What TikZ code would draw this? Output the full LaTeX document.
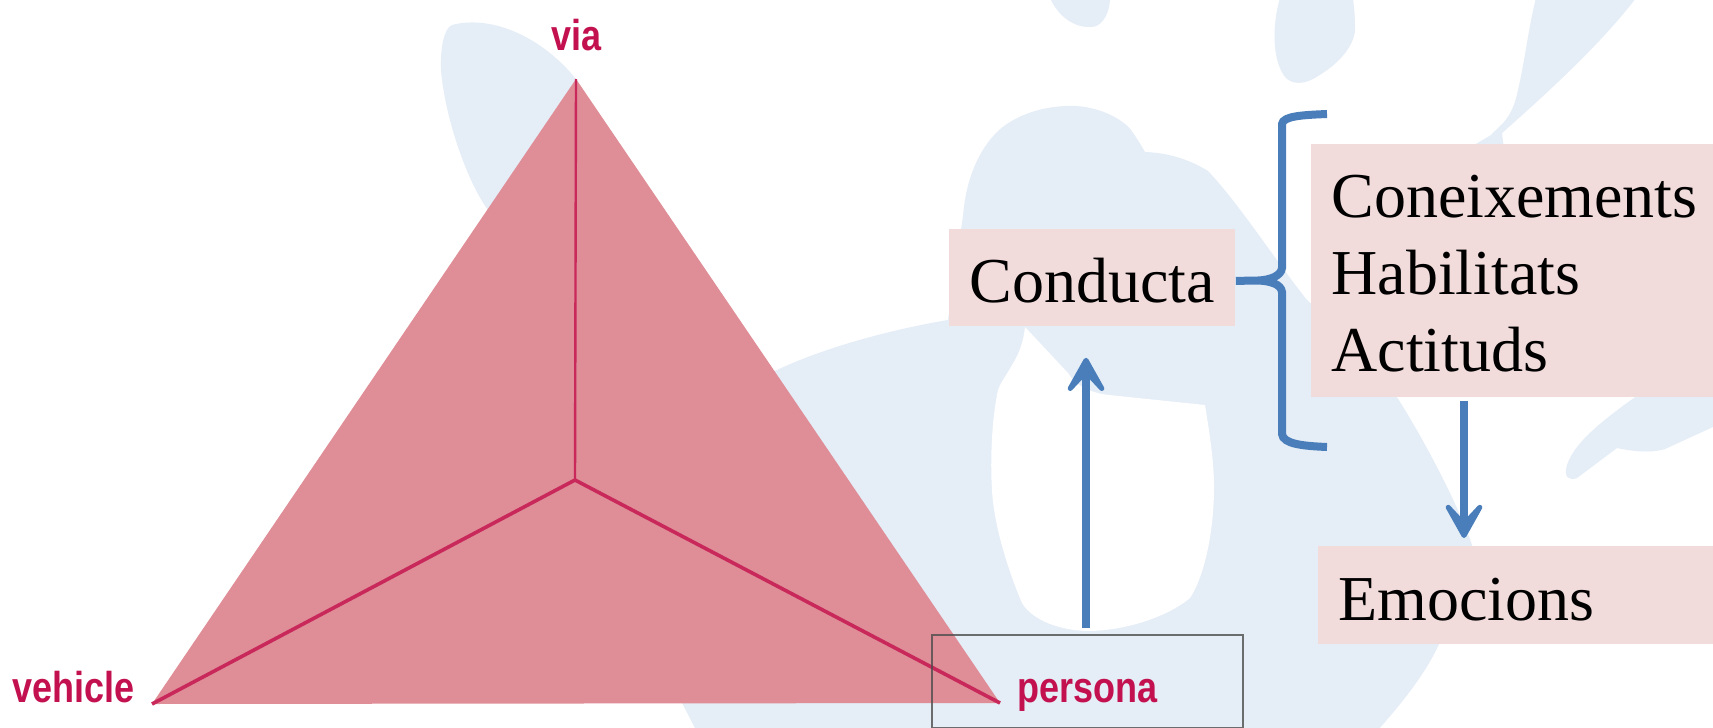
\documentclass[tikz,border=0pt]{standalone}
\usepackage{fontspec}
\setmainfont{Liberation Serif}
\newfontfamily\lsans{Liberation Sans}
\usetikzlibrary{arrows.meta}
\definecolor{bgblue}{HTML}{E5EDF7}
\definecolor{trifill}{HTML}{DF8D97}
\definecolor{spoke}{HTML}{C8295A}
\definecolor{labelred}{HTML}{C3114F}
\definecolor{pinkbg}{HTML}{F2DCDB}
\definecolor{arrowblue}{HTML}{4A7EBB}
\newcommand{\tallabel}[1]{\scalebox{1}[1.2]{#1}}
\tikzset{
  blob/.style={fill=bgblue,draw=none},
  pinkbox/.style={fill=pinkbg,draw=none,anchor=north west,inner xsep=10pt,inner ysep=0pt,align=left,
    font=\fontsize{32}{38.5}\selectfont,text=black},
  oneline/.style={text height=25pt,text depth=0pt},
  vlabel/.style={anchor=base west,inner sep=0pt,text=labelred,font=\lsans\bfseries\fontsize{18}{22}\selectfont},
  bluearrow/.style={draw=arrowblue,line width=4pt,-{Stealth[length=25pt,width=28pt,inset=15pt,round]}},
  spokeline/.style={draw=spoke,line width=1.8pt}
}
\begin{document}
\begin{tikzpicture}[x=0.5pt,y=-0.5pt]
\useasboundingbox (0,0) rectangle (1713,728);
\clip (0,0) rectangle (1713,728);
\fill[white] (0,0) rectangle (1713,728);
% background silhouette
\fill[blob] (492,215) .. controls (470,190) and (445,120) .. (441,70) .. controls (440,45) and (445,28) .. (452,25) .. controls (490,15) and (540,35) .. (576,79) -- cycle;
\fill[blob] (1050,-2) .. controls (1060,20) and (1078,28) .. (1091,27) .. controls (1104,27) and (1110,10) .. (1110,-2) -- cycle;
\fill[blob] (1280,-2) .. controls (1272,25) and (1272,60) .. (1285,77) .. controls (1292,85) and (1305,85) .. (1318,76) .. controls (1345,60) and (1356,40) .. (1355,27) .. controls (1355,15) and (1354,8) .. (1353,-2) -- cycle;
\fill[blob] (1536,-2) .. controls (1528,30) and (1525,60) .. (1518,90) .. controls (1512,120) and (1500,125) .. (1491,135) -- (1466,150) -- (1504,150) -- (1502,133) .. controls (1545,95) and (1600,45) .. (1636,-2) -- cycle;
\fill[blob] (1645,390) .. controls (1610,415) and (1575,440) .. (1567,465) .. controls (1563,478) and (1570,481) .. (1577,478) -- (1617,448) .. controls (1640,453) and (1655,452) .. (1665,449) -- (1713,427) -- (1713,390) -- cycle;
\fill[blob] (963,216) .. controls (966,180) and (978,150) .. (999,130) .. controls (1020,112) and (1050,105) .. (1076,106) .. controls (1105,108) and (1125,122) .. (1131,130) .. controls (1138,140) and (1142,147) .. (1145,152) .. controls (1170,153) and (1190,160) .. (1208,171) .. controls (1240,205) and (1275,260) .. (1307,300) .. controls (1350,340) and (1380,370) .. (1400,402) .. controls (1430,450) and (1460,510) .. (1472,545) -- (1472,640) -- (1439,644) .. controls (1425,675) and (1400,705) .. (1378,730) -- (696,730) -- (660,660) -- (660,400) -- (777,370) .. controls (830,345) and (900,328) .. (948,320) -- cycle;
\fill[white] (1025,327) .. controls (1023,345) and (1018,355) .. (1012,365) .. controls (1005,378) and (998,385) .. (997,395) .. controls (992,420) and (990,460) .. (992,490) .. controls (994,530) and (1012,580) .. (1022,603) .. controls (1032,620) and (1060,631) .. (1090,631) .. controls (1130,630) and (1170,615) .. (1190,598) .. controls (1205,575) and (1214,530) .. (1214,487) .. controls (1214,460) and (1209,430) .. (1205,405) -- (1109,395) .. controls (1090,393) and (1075,385) .. (1068,373) -- cycle;
% triangle
\coordinate (apex) at (576,79);
\coordinate (left) at (152,704);
\coordinate (right) at (1000,703);
\coordinate (centre) at (575,480);
\fill[trifill] (apex) -- (right) -- (left) -- cycle;
\draw[spokeline,line width=1.2pt] (apex) -- (centre);
\draw[spokeline] (left) -- (centre) -- (right);
% labels
\node[vlabel] (via) at (551,50) {\tallabel{via}};
\node[vlabel] (vehicle) at (12,702) {\tallabel{vehicle}};
\node[vlabel] (persona) at (1017,702) {\tallabel{persona}};
% grey frame
\node[draw=black!70,draw opacity=.8,line width=1pt,anchor=north west,minimum width=155.5pt,minimum height=46.5pt,inner sep=0pt] (pbox) at (931,634) {};
% pink boxes
\node[pinkbox,oneline,text width=123pt,minimum height=48.5pt] (cond) at (949,229) {Conducta};
\node[pinkbox,text width=181pt,minimum height=126.5pt] (know) at (1311,144) {\rule{0pt}{24pt}Coneixements\\Habilitats\\Actituds};
\node[pinkbox,oneline,text width=177.5pt,minimum height=49pt] (emo) at (1318,546) {Emocions};
% arrows
\coordinate (upstart) at ([xshift=-0.75pt,yshift=3pt]pbox.north);
\coordinate (upend) at ([yshift=-15.5pt]cond.south);
\draw[bluearrow] (upstart) -- (upstart |- upend);
\coordinate (downstart) at (1464,401);
\coordinate (downend) at (1464,538);
\draw[bluearrow] (downstart) -- (downend);
% brace
\coordinate (bracetop) at (1327,114);
\coordinate (bracebot) at (1327,447);
\coordinate (bracetip) at ([yshift=-1.5pt]cond.east);
\coordinate (stem) at (1258,280.5);
\draw[draw=arrowblue,line width=4pt,line join=miter]
  (bracetop) .. controls (1303,115) and (1283,116) .. (1282,124)
  -- (1282,268) .. controls (1281,276) and (1270,280) .. (stem)
  -- (bracetip) -- (stem)
  .. controls (1270,281) and (1281,284) .. (1282,292)
  -- (1282,434) .. controls (1283,444) and (1303,446) .. (bracebot);
\end{tikzpicture}
\end{document}
